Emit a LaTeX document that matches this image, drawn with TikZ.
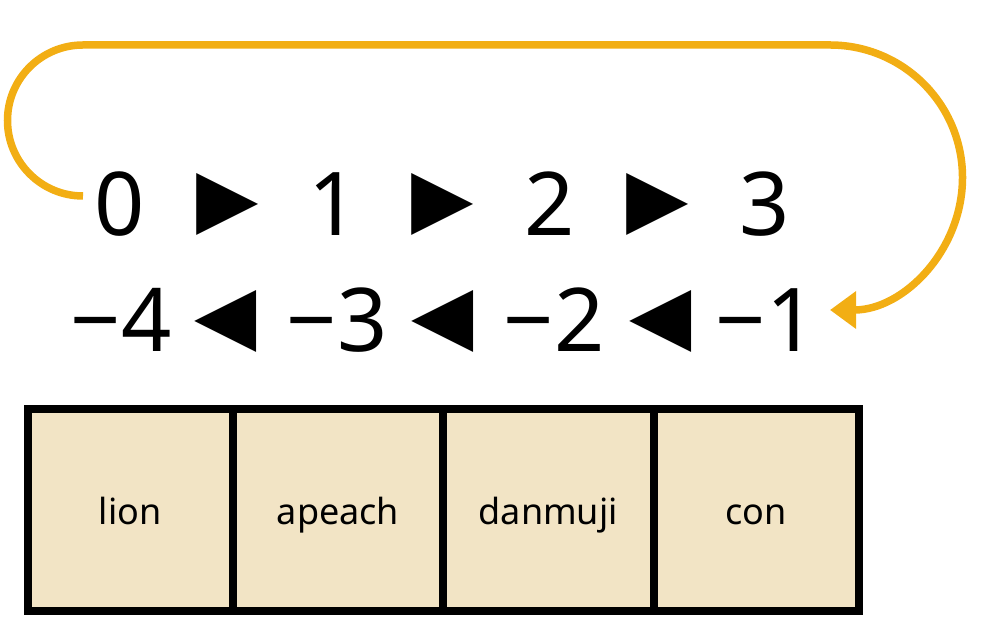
\documentclass[tikz,border=0pt]{standalone}
\usepackage{fontspec}
\setmainfont{Noto Sans}
\newfontfamily\symfont{DejaVu Sans}
\usetikzlibrary{arrows.meta}
\definecolor{cellfill}{RGB}{242,228,197}
\definecolor{loopcol}{RGB}{242,174,20}
\tikzset{
  num/.style={inner sep=0pt, outer sep=0pt, anchor=base, font=\fontsize{88}{88}\selectfont},
  tri/.style={inner sep=0pt, outer sep=0pt, anchor=center, font=\symfont\fontsize{81}{81}\selectfont},
  cell/.style={draw=black, line width=8pt, fill=cellfill, inner sep=0pt,
    minimum height=202pt, text height=30pt, text depth=0pt, font=\fontsize{36}{36}\selectfont},
  loopline/.style={draw=loopcol, line width=7.5pt, -{Triangle[length=26pt,width=36pt]}}
}
\begin{document}
\begin{tikzpicture}[x=1pt,y=1pt]
\useasboundingbox (0,0) rectangle (1008,623);
% top row
\node[num] (n0) at (120,387) {0};
\node[tri] (t1) at (228,419) {▶};
\node[num] (n1) at (334,387) {1};
\node[tri] (t2) at (443,419) {▶};
\node[num] (n2) at (550,387) {2};
\node[tri] (t3) at (658,419) {▶};
\node[num] (n3) at (765,387) {3};
% bottom row
\node[num] (m4) at (121,271) {−4};
\node[tri] (u1) at (226,302) {◀};
\node[num] (m3) at (337,271) {−3};
\node[tri] (u2) at (443,302) {◀};
\node[num] (m2) at (554,271) {−2};
\node[tri] (u3) at (661,302) {◀};
\node[num] (m1) at (766,271) {−1};
% cells
\node[cell, minimum width=205.5pt] (lion) at (130.25,113) {lion};
\node[cell, minimum width=210pt] (apeach) at (338,113) {apeach};
\node[cell, minimum width=210.5pt] (danmuji) at (548.25,113) {danmuji};
\node[cell, minimum width=205.5pt] (con) at (756.25,113) {con};
% loop arrow from 0 round to -1
\coordinate (arrS) at (83,427);
\draw[loopline] (arrS) arc[start angle=270, end angle=90, radius=75.5]
  -- ++(747,0) arc[start angle=90, end angle=-90, radius=132.5];
\end{tikzpicture}
\end{document}
